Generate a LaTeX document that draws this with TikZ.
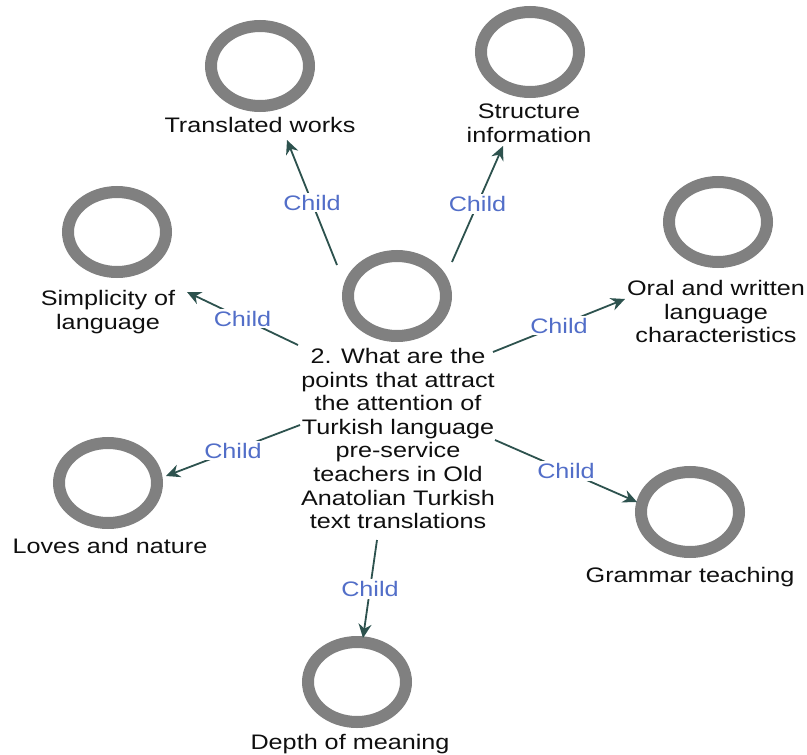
\documentclass[tikz,border=0pt]{standalone}
\usepackage{fontspec}
\setmainfont{Liberation Sans}[FakeStretch=1.2]
\usetikzlibrary{shapes.geometric,arrows.meta}
\definecolor{ringgray}{RGB}{128,128,128}
\definecolor{linkteal}{RGB}{45,82,78}
\definecolor{linkblue}{RGB}{82,110,200}
\definecolor{labelink}{RGB}{15,15,15}
\begin{document}
\begin{tikzpicture}[x=1pt,y=-1pt,
  ring/.style={ellipse, draw=ringgray, line width=12pt, minimum width=98pt, minimum height=80pt, inner sep=0pt},
  caption/.style={anchor=north, align=center, inner sep=0pt, font=\fontsize{21pt}{23.6pt}\selectfont, text=labelink},
  link/.style={draw=linkteal, line width=1.8pt, -{Stealth[length=14pt,width=13pt]}},
  childtag/.style={midway, fill=white, inner sep=2pt, text=linkblue, font=\fontsize{21pt}{23.6pt}\selectfont}]
\useasboundingbox (0,0) rectangle (807,755);

% central topic
\node[ring] (ctr) at (397,296) {};
\node[caption] (ctrtext) at (398,348) {2. What are the\\points that attract\\the attention of\\Turkish language\\pre-service\\teachers in Old\\Anatolian Turkish\\text translations};

% child topics
\node[ring] (trans) at (260,66) {};
\node[caption] (transtext) at (260,117) {Translated works};
\node[ring] (struct) at (530,52) {};
\node[caption] (structtext) at (529,104) {Structure\\information};
\node[ring] (simp) at (117,232) {};
\node[caption] (simptext) at (108,290) {Simplicity of\\language};
\node[ring] (oral) at (718,222) {};
\node[caption] (oraltext) at (716,280) {Oral and written\\language\\characteristics};
\node[ring] (loves) at (108,483) {};
\node[caption] (lovestext) at (110,538) {Loves and nature};
\node[ring] (gram) at (690,512) {};
\node[caption] (gramtext) at (690,567) {Grammar teaching};
\node[ring] (depth) at (357,682) {};
\node[caption] (depthtext) at (350,734) {Depth of meaning};

% connector end points
\coordinate (e1a) at (337,265); \coordinate (e1b) at (287,140);
\coordinate (e2a) at (452,262); \coordinate (e2b) at (503,146);
\coordinate (e3a) at (298,345); \coordinate (e3b) at (187,292);
\coordinate (e4a) at (493,352); \coordinate (e4b) at (625,299);
\coordinate (e5a) at (300,425); \coordinate (e5b) at (166,476);
\coordinate (e6a) at (495,440); \coordinate (e6b) at (637,502);
\coordinate (e7a) at (377,540); \coordinate (e7b) at (363,638);

\draw[link] (e1a) -- node[childtag]{Child} (e1b);
\draw[link] (e2a) -- node[childtag]{Child} (e2b);
\draw[link] (e3a) -- node[childtag]{Child} (e3b);
\draw[link] (e4a) -- node[childtag]{Child} (e4b);
\draw[link] (e5a) -- node[childtag]{Child} (e5b);
\draw[link] (e6a) -- node[childtag]{Child} (e6b);
\draw[link] (e7a) -- node[childtag]{Child} (e7b);
\end{tikzpicture}
\end{document}
